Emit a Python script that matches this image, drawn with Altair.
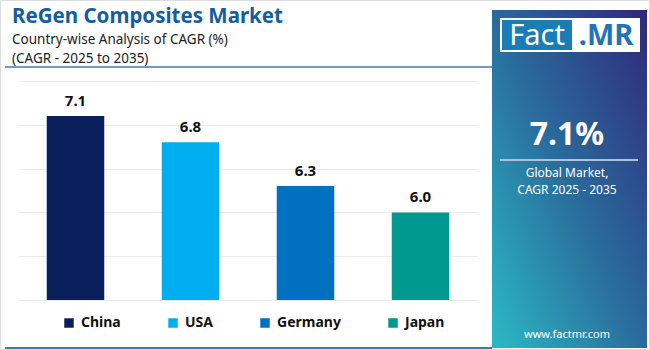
import altair as alt
import pandas as pd

countries = ["China", "USA", "Germany", "Japan"]
cagr = [7.1, 6.8, 6.3, 6.0]
colors = ["#0a1f5c", "#00aeef", "#0070c0", "#00998f"]
grid_values = [5.0, 5.5, 6.0, 6.5, 7.0, 7.5]

df = pd.DataFrame({"country": countries, "cagr": cagr, "label": [f"{v:.1f}" for v in cagr]})

FONT = "Noto Sans"

xenc = alt.X("country:N", sort=countries, axis=None,
             scale=alt.Scale(paddingInner=0.5, paddingOuter=0.25))
yscale = alt.Scale(domain=[5, 7.5], zero=False, nice=False)

bars = alt.Chart(df).mark_bar().encode(
    x=xenc,
    y=alt.Y("cagr:Q", scale=yscale,
            axis=alt.Axis(values=grid_values, labels=False, ticks=False, domain=False,
                          title=None, grid=True, gridColor="#ececec", gridWidth=1)),
    y2=alt.datum(5),
    color=alt.Color("country:N", sort=countries,
                    scale=alt.Scale(domain=countries, range=colors),
                    legend=alt.Legend(orient="none", direction="horizontal", title=None,
                                      legendX=44, legendY=235, symbolType="square",
                                      symbolSize=90, symbolStrokeWidth=0,
                                      labelFont=FONT, labelFontSize=14, labelFontWeight="bold",
                                      labelColor="#111111", columnPadding=45, labelOffset=5,
                                      padding=0)),
)

labels = alt.Chart(df).mark_text(font=FONT, fontSize=15, fontWeight="bold", color="#111111",
                                 baseline="bottom", dy=-7).encode(
    x=xenc, y=alt.Y("cagr:Q", scale=yscale), text="label:N")

one = alt.Data(values=[{"k": 1}])
base = alt.Chart(one)

def txt(s, x, y, size, color, weight="normal", align="left"):
    return base.mark_text(text=s, font=FONT, fontSize=size, color=color, fontWeight=weight,
                          align=align, baseline="alphabetic").encode(
        x=alt.value(x), y=alt.value(y))

def rect(x, x2, y, y2, fill, **kw):
    return base.mark_rect(fill=fill, **kw).encode(
        x=alt.value(x), x2=alt.value(x2), y=alt.value(y), y2=alt.value(y2))

panel = base.mark_rect(fill=alt.Gradient(
    gradient="linear", x1=1, y1=0, x2=0, y2=1,
    stops=[alt.GradientStop(offset=0, color="#30287a"),
           alt.GradientStop(offset=0.5, color="#2a6a9c"),
           alt.GradientStop(offset=1, color="#2bbac4")])).encode(
    x=alt.value(474), x2=alt.value(629), y=alt.value(-71), y2=alt.value(267))

logo_white = rect(482, 622, -63, -29, "#ffffff")
logo_blue = rect(484, 554, -61, -31, "#1a7db6")
fact = txt("Fact", 519, -36, 29, "#ffffff", align="center")
mr = txt(".MR", 588, -36, 29, "#1f73b7", weight="bold", align="center")

big = txt("7.1%", 549, 64, 32, "#ffffff", weight="bold", align="center")
sep = base.mark_rule(color="#a9c3e0", strokeWidth=2).encode(
    x=alt.value(482), x2=alt.value(620), y=alt.value(79))
g1 = txt("Global Market,", 549, 96, 12, "#ffffff", align="center")
g2 = txt("CAGR 2025 - 2035", 549, 113, 12, "#ffffff", align="center")
www = txt("www.factmr.com", 549, 257, 11, "#ffffff", align="center")

title = txt("ReGen Composites Market", -6, -58, 20.5, "#155e9c", weight="bold")
sub1 = txt("Country-wise Analysis of CAGR (%)", -6, -37, 13.5, "#222222")
sub2 = txt("(CAGR - 2025 to 2035)", -6, -18.5, 13.5, "#222222")
tline = base.mark_rule(color="#3a7db5", strokeWidth=1.5).encode(
    x=alt.value(-13), x2=alt.value(474), y=alt.value(-14))
bline = base.mark_rule(color="#3a7db5", strokeWidth=2).encode(
    x=alt.value(-13), x2=alt.value(474), y=alt.value(267))
border = base.mark_rect(fill="transparent", stroke="#dddddd", strokeWidth=1).encode(
    x=alt.value(-17.5), x2=alt.value(631.5), y=alt.value(-80.5), y2=alt.value(268.5))

chart = alt.layer(border, bars, labels, panel, logo_white, logo_blue, fact, mr, big, sep,
                  g1, g2, www, title, sub1, sub2, tline, bline).properties(
    width=460, height=219,
    autosize=alt.AutoSizeParams(type="none"),
    padding={"left": 18, "top": 81, "right": 172, "bottom": 50},
    background="#ffffff",
).configure_view(stroke=None)

chart.save("out.html", embed_options={"renderer": "svg", "actions": False})
